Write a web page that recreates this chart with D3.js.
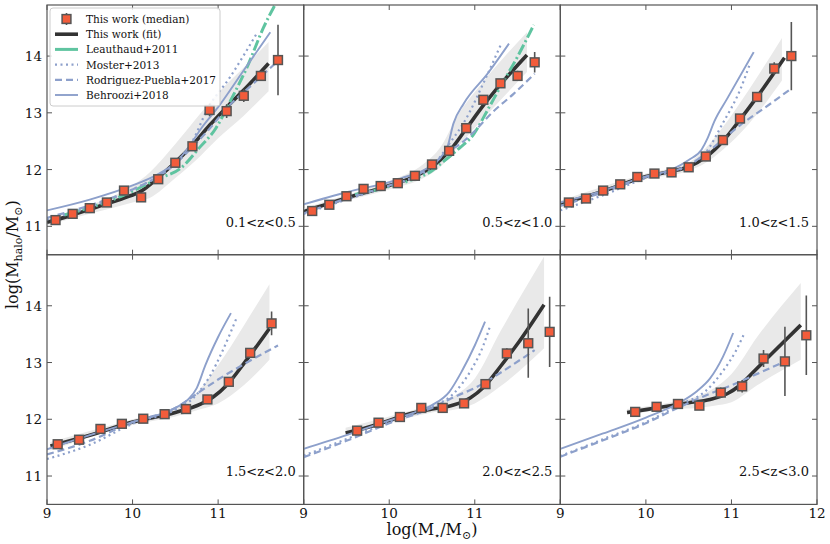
<!DOCTYPE html>
<html><head><meta charset="utf-8">
<script src="https://cdn.jsdelivr.net/npm/d3@7"></script>
<style>body{margin:0;background:#fff}svg{display:block}text{font-family:"DejaVu Serif",serif;fill:#111}</style>
</head><body><svg id="c" width="830" height="544"></svg>
<script>
const zLabels = ["0.1<z<0.5","0.5<z<1.0","1.0<z<1.5","1.5<z<2.0","2.0<z<2.5","2.5<z<3.0"];
const xTicks = [9,10,11,12];
const yTicks = [11,12,13,14];
const legendLabels = ["This work (median)","This work (fit)","Leauthaud+2011","Moster+2013","Rodriguez-Puebla+2017","Behroozi+2018"];

const medianX = [
 [9.1,9.3,9.5,9.7,9.9,10.1,10.3,10.5,10.7,10.9,11.1,11.3,11.5,11.7],
 [9.1,9.3,9.5,9.7,9.9,10.1,10.3,10.5,10.7,10.9,11.1,11.3,11.5,11.7],
 [9.1,9.3,9.5,9.7,9.9,10.1,10.3,10.5,10.7,10.9,11.1,11.3,11.5,11.7],
 [9.125,9.375,9.625,9.875,10.125,10.375,10.625,10.875,11.125,11.375,11.625],
 [9.625,9.875,10.125,10.375,10.625,10.875,11.125,11.375,11.625,11.875],
 [9.875,10.125,10.375,10.625,10.875,11.125,11.375,11.625,11.875]
];
const medianY = [
 [11.11,11.22,11.32,11.42,11.63,11.51,11.83,12.12,12.41,13.05,13.03,13.30,13.65,13.93],
 [11.27,11.38,11.53,11.66,11.71,11.76,11.89,12.09,12.33,12.73,13.23,13.52,13.65,13.89],
 [11.42,11.49,11.63,11.74,11.87,11.93,11.95,12.04,12.23,12.52,12.90,13.28,13.78,14.00],
 [11.56,11.64,11.83,11.92,12.01,12.09,12.18,12.35,12.66,13.17,13.69],
 [11.80,11.94,12.04,12.20,12.20,12.28,12.62,13.16,13.34,13.54],
 [12.13,12.22,12.27,12.24,12.47,12.58,13.07,13.02,13.48]
];
const medianErr = [
 [0.04,0.04,0.04,0.04,0.05,0.05,0.05,0.06,0.07,0.11,0.12,0.11,0.08,0.62],
 [0.03,0.03,0.03,0.03,0.04,0.04,0.04,0.05,0.06,0.06,0.06,0.07,0.09,0.18],
 [0.03,0.03,0.03,0.03,0.04,0.04,0.04,0.05,0.05,0.06,0.07,0.08,0.11,0.60],
 [0.03,0.03,0.03,0.03,0.04,0.04,0.04,0.05,0.06,0.07,0.21],
 [0.04,0.04,0.04,0.04,0.05,0.05,0.06,0.09,0.61,0.62],
 [0.04,0.04,0.04,0.07,0.09,0.11,0.15,0.61,0.70]
];
const fitCurve = [
 [[9.0,11.07],[9.3,11.2],[9.6,11.35],[9.9,11.5],[10.1,11.62],[10.3,11.86],[10.5,12.13],[10.7,12.43],[10.9,12.78],[11.1,13.1],[11.3,13.4],[11.59,13.87]],
 [[8.96,11.24],[9.5,11.5],[10.0,11.72],[10.3,11.88],[10.5,12.05],[10.7,12.32],[10.9,12.72],[11.1,13.13],[11.3,13.5],[11.61,14.02]],
 [[9.0,11.39],[9.5,11.62],[10.0,11.88],[10.3,11.97],[10.5,12.05],[10.7,12.22],[10.9,12.5],[11.1,12.88],[11.3,13.28],[11.62,13.97]],
 [[9.04,11.53],[9.5,11.72],[10.0,11.95],[10.5,12.12],[10.8,12.27],[10.95,12.4],[11.1,12.6],[11.3,12.98],[11.6,13.6]],
 [[9.49,11.76],[9.75,11.86],[10.0,11.98],[10.25,12.1],[10.5,12.18],[10.75,12.25],[10.95,12.38],[11.1,12.56],[11.3,12.93],[11.5,13.33],[11.81,14.02]],
 [[9.78,12.12],[10.0,12.17],[10.25,12.23],[10.5,12.29],[10.75,12.35],[10.95,12.45],[11.1,12.6],[11.3,12.9],[11.5,13.2],[11.81,13.66]]
];
const bandX = [
 [9.0,9.5,10.0,10.2,10.5,10.8,11.0,11.3,11.59],
 [8.96,9.5,10.0,10.4,10.6,10.8,11.1,11.61],
 [9.0,10.0,10.5,10.7,10.9,11.2,11.59],
 [9.04,10.0,10.5,10.8,11.0,11.3,11.6],
 [9.49,10.0,10.5,10.8,11.0,11.3,11.81],
 [9.78,10.3,10.6,10.8,11.0,11.3,11.81]
];
const bandHi = [
 [11.15,11.37,11.72,11.95,12.45,13.0,13.35,13.8,14.25],
 [11.3,11.55,11.8,12.1,12.4,12.95,13.55,14.42],
 [11.45,11.93,12.12,12.38,12.75,13.4,14.32],
 [11.6,12.0,12.2,12.55,12.95,13.65,14.38],
 [11.85,12.05,12.27,12.45,12.72,13.55,14.87],
 [12.18,12.3,12.4,12.55,12.8,13.45,14.4]
];
const bandLo = [
 [11.02,11.22,11.42,11.5,11.85,12.25,12.55,12.95,13.38],
 [11.2,11.45,11.65,11.85,12.05,12.4,12.9,13.72],
 [11.35,11.83,11.98,12.12,12.35,12.8,13.57],
 [11.45,11.9,12.05,12.18,12.28,12.6,13.05],
 [11.7,11.93,12.12,12.18,12.28,12.58,13.25],
 [12.08,12.18,12.2,12.24,12.3,12.6,13.05]
];
const leauthaud = [
 [[9.2,11.2],[9.5,11.33],[9.9,11.55],[10.3,11.84],[10.56,12.02],[10.79,12.4],[10.97,12.72],[11.14,13.2],[11.34,13.81],[11.53,14.5],[11.7,15.0]],
 [[9.6,11.56],[10.0,11.7],[10.3,11.84],[10.5,11.98],[10.6,12.1],[10.79,12.34],[10.99,12.63],[11.15,13.05],[11.3,13.46],[11.5,13.99],[11.69,14.55]],
 [],[],[],[]
];
const moster = [
 [[9.0,11.12],[9.5,11.34],[10.0,11.65],[10.3,11.88],[10.5,12.12],[10.7,12.5],[10.87,13.05],[11.14,13.63],[11.46,14.42]],
 [[9.0,11.22],[9.5,11.47],[10.0,11.71],[10.3,11.87],[10.5,12.05],[10.7,12.45],[10.9,12.9],[11.1,13.52],[11.31,14.22]],
 [[9.0,11.28],[9.5,11.55],[10.0,11.85],[10.5,12.08],[10.7,12.3],[10.9,12.82],[11.1,13.4],[11.22,13.88]],
 [[9.0,11.3],[9.5,11.55],[10.0,11.92],[10.5,12.17],[10.7,12.36],[10.9,12.75],[11.05,13.2],[11.22,13.8]],
 [[9.0,11.36],[9.5,11.65],[10.0,11.95],[10.5,12.22],[10.75,12.45],[10.95,12.85],[11.1,13.3],[11.18,13.65]],
 [[9.0,11.35],[9.5,11.65],[10.0,11.95],[10.4,12.26],[10.7,12.5],[10.9,12.85],[11.05,13.2],[11.14,13.48]]
];
const rodriguez = [
 [[9.0,11.15],[9.5,11.37],[10.0,11.65],[10.3,11.88],[10.5,12.1],[10.7,12.4],[10.9,12.72],[11.1,13.08],[11.4,13.5],[11.69,13.9]],
 [[9.0,11.23],[9.5,11.49],[10.0,11.72],[10.3,11.88],[10.5,12.07],[10.7,12.34],[10.8,12.42],[11.0,12.68],[11.2,13.0],[11.45,13.33],[11.7,13.69]],
 [[9.0,11.36],[9.5,11.6],[10.0,11.87],[10.5,12.08],[10.7,12.28],[10.9,12.53],[11.1,12.78],[11.4,13.1],[11.7,13.43]],
 [[9.0,11.38],[9.5,11.62],[10.0,11.95],[10.5,12.2],[10.8,12.5],[11.0,12.7],[11.3,12.97],[11.7,13.3]],
 [[9.0,11.33],[9.5,11.62],[10.0,11.93],[10.5,12.2],[10.8,12.42],[11.0,12.55],[11.3,12.82],[11.7,13.22]],
 [[9.0,11.34],[9.5,11.63],[10.0,11.93],[10.4,12.22],[10.7,12.42],[11.0,12.6],[11.3,12.8],[11.7,13.07]]
];
const behroozi = [
 [[9.0,11.28],[9.5,11.47],[10.0,11.72],[10.3,11.92],[10.5,12.12],[10.65,12.38],[10.8,12.72],[11.0,13.1],[11.3,13.75],[11.61,14.42]],
 [[8.96,11.37],[9.5,11.6],[10.13,11.84],[10.52,12.11],[10.68,12.4],[10.75,12.81],[10.87,13.16],[11.15,13.69],[11.4,14.22]],
 [[9.0,11.42],[9.5,11.63],[10.0,11.88],[10.3,12.0],[10.5,12.17],[10.65,12.35],[10.72,12.55],[10.8,12.85],[10.95,13.25],[11.26,14.07]],
 [[9.0,11.47],[9.5,11.72],[10.0,11.95],[10.5,12.2],[10.65,12.35],[10.75,12.55],[10.85,12.95],[11.0,13.45],[11.15,13.87]],
 [[9.0,11.48],[9.5,11.72],[10.0,11.98],[10.3,12.12],[10.5,12.25],[10.7,12.48],[10.85,12.85],[11.0,13.3],[11.12,13.72]],
 [[9.0,11.48],[9.5,11.75],[10.0,12.03],[10.4,12.3],[10.6,12.5],[10.75,12.72],[10.9,13.1],[11.02,13.52]]
];

// ---- layout ----
const L = 47, T = 5, PW = 256.67, PH = 249.7;
const C = {blue:"#8da0cb", green:"#5fc4a0", fit:"#333333", mark:"#f25c3b", edge:"#555555", band:"#e9e9e9", frame:"#555"};
const svg = d3.select("#c");
const defs = svg.append("defs");

const refs = [
  {data:leauthaud, color:C.green, width:3, dash:"11,3,2,3"},
  {data:moster, color:C.blue, width:2.2, dash:"2,3.5"},
  {data:rodriguez, color:C.blue, width:2.2, dash:"7,4"},
  {data:behroozi, color:C.blue, width:1.9, dash:null}
];

for (let p = 0; p < 6; p++) {
  const col = p % 3, row = Math.floor(p / 3);
  const x0 = L + col * PW, y0 = T + row * PH;
  const x = d3.scaleLinear().domain([9, 12]).range([0, PW]);
  const y = d3.scaleLinear().domain([10.5, 14.9]).range([PH, 0]);
  const g = svg.append("g").attr("transform", `translate(${x0},${y0})`);
  defs.append("clipPath").attr("id", "clip" + p).append("rect").attr("width", PW).attr("height", PH);
  const pg = g.append("g").attr("clip-path", `url(#clip${p})`);

  const bd = bandX[p].map((v, i) => ({x: v, lo: bandLo[p][i], hi: bandHi[p][i]}));
  pg.append("path").datum(bd)
    .attr("d", d3.area().x(d => x(d.x)).y0(d => y(d.lo)).y1(d => y(d.hi)).curve(d3.curveMonotoneX))
    .attr("fill", C.band);

  const line = d3.line().x(d => x(d[0])).y(d => y(d[1])).curve(d3.curveMonotoneX);
  pg.append("path").datum(fitCurve[p]).attr("d", line)
    .attr("fill", "none").attr("stroke", C.fit).attr("stroke-width", 3.6).attr("stroke-linecap", "butt");
  refs.forEach(r => {
    if (!r.data[p].length) return;
    pg.append("path").datum(r.data[p]).attr("d", line)
      .attr("fill", "none").attr("stroke", r.color).attr("stroke-width", r.width)
      .attr("stroke-dasharray", r.dash);
  });
  const md = medianX[p].map((v, i) => ({x: v, y: medianY[p][i], e: medianErr[p][i]}));
  pg.selectAll(".eb").data(md).enter().append("line")
    .attr("x1", d => x(d.x)).attr("x2", d => x(d.x))
    .attr("y1", d => y(d.y - d.e)).attr("y2", d => y(d.y + d.e))
    .attr("stroke", C.edge).attr("stroke-width", 1.6);
  pg.selectAll(".mk").data(md).enter().append("rect")
    .attr("x", d => x(d.x) - 4.4).attr("y", d => y(d.y) - 4.4)
    .attr("width", 8.8).attr("height", 8.8)
    .attr("fill", C.mark).attr("stroke", C.edge).attr("stroke-width", 1.5);

  const tk = g.append("g").attr("stroke", C.frame).attr("stroke-width", 1);
  xTicks.forEach(t => {
    tk.append("line").attr("x1", x(t)).attr("x2", x(t)).attr("y1", PH).attr("y2", PH - 5);
    tk.append("line").attr("x1", x(t)).attr("x2", x(t)).attr("y1", 0).attr("y2", 5);
  });
  yTicks.forEach(t => {
    tk.append("line").attr("x1", 0).attr("x2", 5).attr("y1", y(t)).attr("y2", y(t));
    tk.append("line").attr("x1", PW).attr("x2", PW - 5).attr("y1", y(t)).attr("y2", y(t));
  });
  g.append("rect").attr("width", PW).attr("height", PH)
    .attr("fill", "none").attr("stroke", C.frame).attr("stroke-width", 1.2);

  if (row === 1) {
    xTicks.forEach(t => {
      if (t === 12 && col < 2) return;
      g.append("text").attr("x", x(t)).attr("y", PH + 14).attr("text-anchor", "middle")
        .attr("font-size", 13.5).text(t);
    });
  }
  if (col === 0) {
    yTicks.forEach(t => {
      g.append("text").attr("x", -5).attr("y", y(t) + 5).attr("text-anchor", "end")
        .attr("font-size", 13.5).text(t);
    });
  }
  g.append("text").attr("x", PW - 8).attr("y", PH - 28).attr("text-anchor", "end")
    .attr("font-size", 13).text(zLabels[p]);
}

const xl = svg.append("text").attr("x", L + 1.5 * PW).attr("y", 535).attr("text-anchor", "middle").attr("font-size", 16);
xl.append("tspan").text("log(M");
xl.append("tspan").attr("font-size", 10).attr("dy", 4).text("⋆");
xl.append("tspan").attr("dy", -4).text("/M");
xl.append("tspan").attr("font-size", 11).attr("dy", 4).text("⊙");
xl.append("tspan").attr("dy", -4).text(")");

const yl = svg.append("text").attr("transform", `translate(18,${T + PH}) rotate(-90)`).attr("text-anchor", "middle").attr("font-size", 16);
yl.append("tspan").text("log(M");
yl.append("tspan").attr("font-size", 11).attr("dy", 4).text("halo");
yl.append("tspan").attr("dy", -4).text("/M");
yl.append("tspan").attr("font-size", 11).attr("dy", 4).text("⊙");
yl.append("tspan").attr("dy", -4).text(")");

const lg = svg.append("g").attr("transform", "translate(50,8)");
lg.append("rect").attr("width", 170).attr("height", 98).attr("rx", 3)
  .attr("fill", "#fff").attr("fill-opacity", 0.85).attr("stroke", "#cccccc").attr("stroke-width", 1);
const rowY = i => 11 + i * 15.2;
const hx1 = 5, hx2 = 28, tx = 36;
lg.append("line").attr("x1", 16.5).attr("x2", 16.5).attr("y1", rowY(0) - 6).attr("y2", rowY(0) + 6)
  .attr("stroke", C.edge).attr("stroke-width", 1.6);
lg.append("rect").attr("x", 16.5 - 4.4).attr("y", rowY(0) - 4.4).attr("width", 8.8).attr("height", 8.8)
  .attr("fill", C.mark).attr("stroke", C.edge).attr("stroke-width", 1.5);
const handles = [
  {color:C.fit, width:3.6, dash:null},
  {color:C.green, width:3, dash:null},
  {color:C.blue, width:2.2, dash:"2,3.5"},
  {color:C.blue, width:2.2, dash:"7,4"},
  {color:C.blue, width:1.9, dash:null}
];
handles.forEach((h, i) => {
  lg.append("line").attr("x1", hx1).attr("x2", hx2).attr("y1", rowY(i + 1)).attr("y2", rowY(i + 1))
    .attr("stroke", h.color).attr("stroke-width", h.width).attr("stroke-dasharray", h.dash);
});
legendLabels.forEach((t, i) => {
  lg.append("text").attr("x", tx).attr("y", rowY(i) + 4).attr("font-size", 10.5).text(t);
});
</script>
</body></html>
